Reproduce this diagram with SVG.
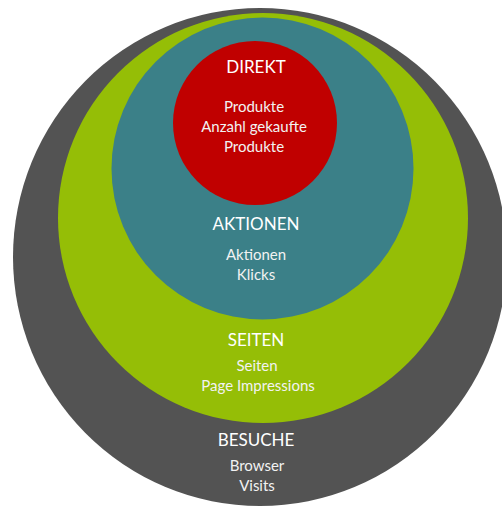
<svg xmlns="http://www.w3.org/2000/svg" width="502" height="506" viewBox="0 0 502 506">
<style>
.t{font-family:Lato,"Open Sans","Liberation Sans",sans-serif;fill:#ffffff;text-anchor:middle;font-size:17px}
.s{font-family:Lato,"Open Sans","Liberation Sans",sans-serif;fill:#f2f2f2;text-anchor:middle;font-size:15px}
</style>
<rect width="502" height="506" fill="#ffffff"/>
<g id="besuche">
<ellipse cx="260" cy="257" rx="247" ry="249" fill="#535353"/>
<text class="t" x="256" y="446">BESUCHE</text>
<text class="s" x="257" y="471">Browser</text>
<text class="s" x="257" y="491">Visits</text>
</g>
<g id="seiten">
<circle cx="263" cy="218" r="205" fill="#95be06"/>
<text class="t" x="256" y="346">SEITEN</text>
<text class="s" x="257" y="371">Seiten</text>
<text class="s" x="258" y="391">Page Impressions</text>
</g>
<g id="aktionen">
<circle cx="262.5" cy="168.5" r="151" fill="#3b8088"/>
<text class="t" x="256" y="230">AKTIONEN</text>
<text class="s" x="256" y="260">Aktionen</text>
<text class="s" x="256" y="280">Klicks</text>
</g>
<g id="direkt">
<circle cx="255" cy="123" r="82" fill="#c00000"/>
<text class="t" x="256" y="73">DIREKT</text>
<text class="s" x="254" y="112">Produkte</text>
<text class="s" x="254" y="132">Anzahl gekaufte</text>
<text class="s" x="254" y="152">Produkte</text>
</g>
<g id="connectors"/>
</svg>
